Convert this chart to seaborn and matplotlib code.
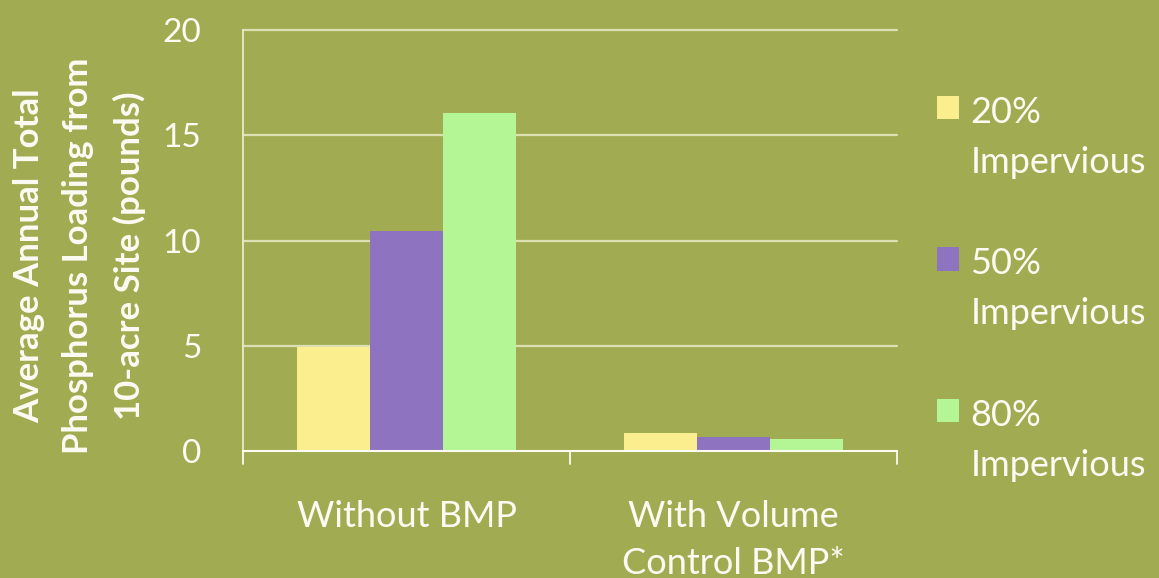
import matplotlib
matplotlib.use("Agg")
import matplotlib.pyplot as plt
import seaborn as sns
import pandas as pd

# Phosphorus loading (pounds/year) from a 10-acre site
scenarios = ["Without BMP", "With Volume\nControl BMP*"]
imperviousness = ["20%\nImpervious", "50%\nImpervious", "80%\nImpervious"]
load_20 = [4.95, 0.84]
load_50 = [10.45, 0.66]
load_80 = [16.05, 0.57]
y_ticks = [0, 5, 10, 15, 20]

bg = "#A1AB51"
fg = "#FBFBF3"
palette = ["#FBEE8E", "#8E74C0", "#B4F596"]

rows = []
for level, vals in zip(imperviousness, [load_20, load_50, load_80]):
    for sc, v in zip(scenarios, vals):
        rows.append({"scenario": sc, "level": level, "load": v})
df = pd.DataFrame(rows)

sns.set_theme(style="white")
plt.rcParams["font.family"] = ["Lato", "DejaVu Sans"]

fig = plt.figure(figsize=(11.59, 5.78), dpi=100, facecolor=bg)
ax = fig.add_axes([0.2097, 0.2197, 0.5643, 0.7283])
ax.set_facecolor(bg)

sns.barplot(data=df, x="scenario", y="load", hue="level", order=scenarios,
            hue_order=imperviousness, palette=palette, saturation=1,
            width=0.67, ax=ax, legend=True, linewidth=0)

ax.set_ylim(0, 20)
ax.set_xlim(-0.5, 1.5)
ax.set_yticks(y_ticks)
ax.set_yticklabels([str(t) for t in y_ticks], color=fg, fontsize=24)
ax.set_xticks([0, 1])
ax.set_xticklabels(scenarios, color=fg, fontsize=26, linespacing=1.55)
ax.tick_params(axis="x", length=0, pad=35)
ax.tick_params(axis="y", length=14, width=1.2, color="#DCE0B4", pad=16)
ax.set_xlabel("")
ax.set_ylabel("Average Annual Total\nPhosphorus Loading from\n10-acre Site (pounds)",
              color=fg, fontsize=25, fontweight="bold", labelpad=12, linespacing=1.68)
ax.yaxis.label.set_y(0.463)

for y in y_ticks[1:]:
    ax.axhline(y, color="#DCE0B4", lw=1.6, zorder=0, clip_on=False)
ax.set_axisbelow(True)

for side in ["top", "right"]:
    ax.spines[side].set_visible(False)
ax.spines["left"].set_color("#E8EBCC")
ax.spines["left"].set_linewidth(1.3)
ax.spines["bottom"].set_color(fg)
ax.spines["bottom"].set_linewidth(1.5)

# category separator ticks below the x-axis
for xpos in [-0.5, 0.5, 1.5]:
    ax.plot([xpos, xpos], [0, -0.6], color=fg, lw=1.3, clip_on=False)

handles, labels = ax.get_legend_handles_labels()
ax.legend_.remove()
leg = fig.legend(handles, labels, loc="upper left", bbox_to_anchor=(0.78, 0.89),
                 frameon=False, fontsize=26, labelcolor=fg, handlelength=0.62,
                 handleheight=0.62, handletextpad=0.32, labelspacing=1.9)
for t in leg.get_texts():
    t.set_linespacing(1.62)
# put each colour swatch beside the first line of its label
for p in leg.get_patches():
    p.set_y(p.get_y() + 22)

fig.savefig("out.png", dpi=100, facecolor=bg)
